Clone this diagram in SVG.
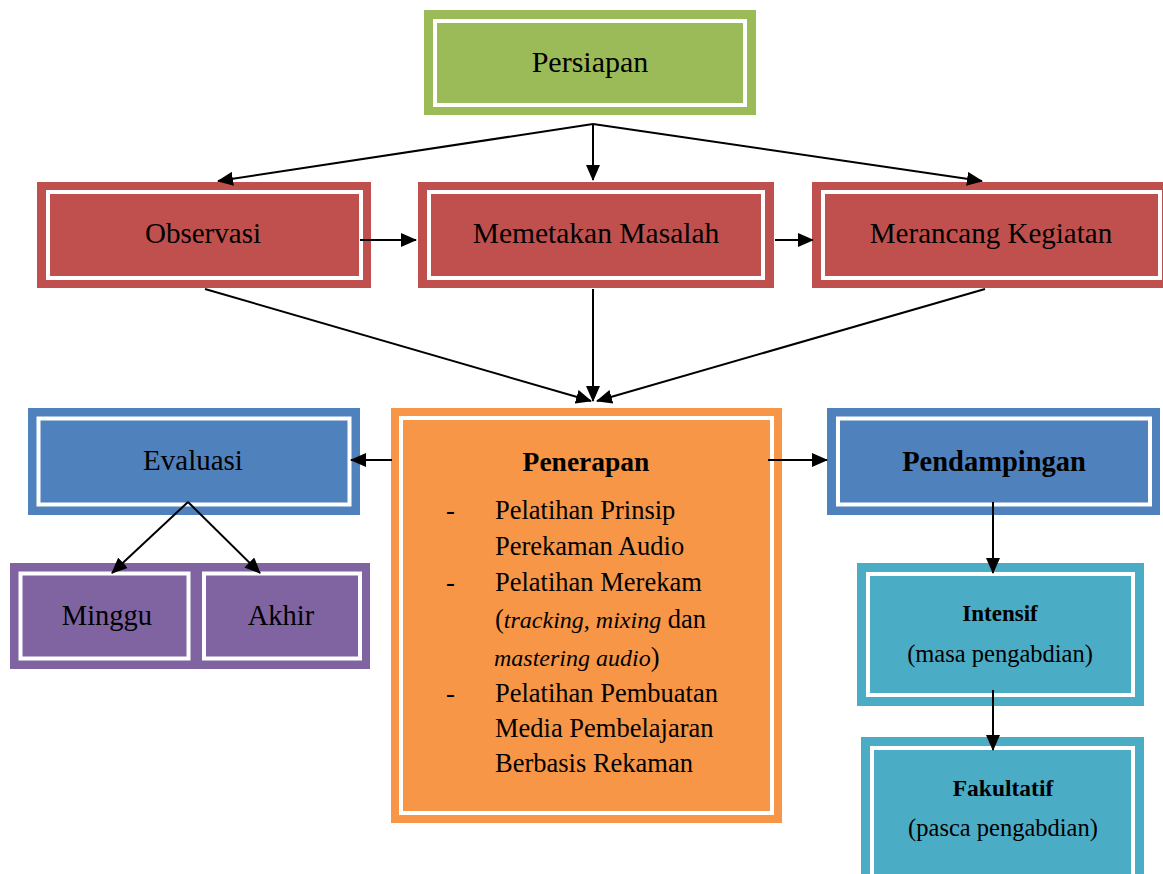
<svg xmlns="http://www.w3.org/2000/svg" width="1163" height="874" viewBox="0 0 1163 874">
<style>
.t{font-family:"Liberation Serif","Times New Roman",serif;fill:#000;text-anchor:middle}
.b{font-weight:bold}
.l{text-anchor:start}
.in{fill:none;stroke:#fff;stroke-width:4}
.c{stroke:#000;stroke-width:2;fill:none}
</style>
<defs>
<marker id="ah" markerUnits="userSpaceOnUse" markerWidth="16" markerHeight="14" refX="15" refY="7" orient="auto">
<path d="M0,0 L16,7 L0,14 Z" fill="#000"/>
</marker>
</defs>
<rect width="1163" height="874" fill="#fff"/>

<g id="persiapan">
<rect x="424" y="10" width="332" height="105" fill="#9BBB59"/>
<rect class="in" x="435" y="21" width="310" height="84"/>
<text class="t" x="590" y="72" font-size="30">Persiapan</text>
</g>

<g id="observasi">
<rect x="37" y="182" width="334" height="106" fill="#C0504D"/>
<rect class="in" x="48" y="192" width="313" height="86"/>
<text class="t" x="203" y="243" font-size="29">Observasi</text>
</g>

<g id="memetakan">
<rect x="418" y="182" width="356" height="106" fill="#C0504D"/>
<rect class="in" x="429" y="192" width="334" height="86"/>
<text class="t" x="596" y="243" font-size="29.5">Memetakan Masalah</text>
</g>

<g id="merancang">
<rect x="812" y="182" width="354" height="106" fill="#C0504D"/>
<rect class="in" x="823" y="192" width="337" height="86"/>
<text class="t" x="991" y="243" font-size="29">Merancang Kegiatan</text>
</g>

<g id="evaluasi">
<rect x="28" y="408" width="332" height="107" fill="#4F81BD"/>
<rect class="in" x="38.5" y="418.5" width="311" height="86"/>
<text class="t" x="193" y="470" font-size="29">Evaluasi</text>
</g>

<g id="minggu">
<rect x="10" y="563" width="188" height="106" fill="#8064A2"/>
<rect class="in" x="20.5" y="573.5" width="168" height="85"/>
<text class="t" x="107" y="625" font-size="28.5">Minggu</text>
</g>

<g id="akhir">
<rect x="194" y="563" width="176" height="106" fill="#8064A2"/>
<rect class="in" x="204" y="573.5" width="156" height="85"/>
<text class="t" x="281" y="625" font-size="28.5">Akhir</text>
</g>

<g id="penerapan">
<rect x="391" y="408" width="391" height="415" fill="#F79646"/>
<rect class="in" x="401" y="418" width="371" height="395"/>
<text class="t b" x="586" y="471" font-size="27.5">Penerapan</text>
<g class="t l" font-size="26.5">
<text x="446" y="519">-</text>
<text x="495" y="519">Pelatihan Prinsip</text>
<text x="495" y="555">Perekaman Audio</text>
<text x="446" y="591">-</text>
<text x="495" y="591">Pelatihan Merekam</text>
<text x="495" y="628">(<tspan font-style="italic" font-size="24">tracking, mixing</tspan> dan</text>
<text x="494" y="666"><tspan font-style="italic" font-size="24">mastering audio</tspan>)</text>
<text x="446" y="702">-</text>
<text x="495" y="702">Pelatihan Pembuatan</text>
<text x="495" y="737">Media Pembelajaran</text>
<text x="495" y="772">Berbasis Rekaman</text>
</g>
</g>

<g id="pendampingan">
<rect x="827" y="408" width="333" height="107" fill="#4F81BD"/>
<rect class="in" x="838" y="418.5" width="312" height="86"/>
<text class="t b" x="994" y="471" font-size="28.5">Pendampingan</text>
</g>

<g id="intensif">
<rect x="857" y="563" width="287" height="143" fill="#4BACC6"/>
<rect class="in" x="868" y="574" width="265" height="121"/>
<text class="t b" x="1000" y="621" font-size="23">Intensif</text>
<text class="t" x="1000" y="662" font-size="24.5">(masa pengabdian)</text>
</g>

<g id="fakultatif">
<rect x="861" y="737" width="283" height="145" fill="#4BACC6"/>
<rect class="in" x="872" y="748" width="261" height="140"/>
<text class="t b" x="1003" y="796" font-size="23.5">Fakultatif</text>
<text class="t" x="1003" y="836" font-size="24.5">(pasca pengabdian)</text>
</g>

<g id="connectors">
<line class="c" x1="593" y1="124" x2="218" y2="181" marker-end="url(#ah)"/>
<line class="c" x1="593" y1="124" x2="593" y2="180" marker-end="url(#ah)"/>
<line class="c" x1="593" y1="124" x2="982" y2="181" marker-end="url(#ah)"/>
<line class="c" x1="360" y1="240" x2="416" y2="240" marker-end="url(#ah)"/>
<line class="c" x1="775" y1="240" x2="813" y2="240" marker-end="url(#ah)"/>
<line class="c" x1="205" y1="289" x2="591" y2="401" marker-end="url(#ah)"/>
<line class="c" x1="593" y1="289" x2="593" y2="401" marker-end="url(#ah)"/>
<line class="c" x1="985" y1="289" x2="597" y2="401" marker-end="url(#ah)"/>
<line class="c" x1="392" y1="460" x2="351" y2="460" marker-end="url(#ah)"/>
<line class="c" x1="768" y1="460" x2="827" y2="460" marker-end="url(#ah)"/>
<line class="c" x1="188" y1="502" x2="112" y2="573" marker-end="url(#ah)"/>
<line class="c" x1="188" y1="502" x2="260" y2="573" marker-end="url(#ah)"/>
<line class="c" x1="993" y1="502" x2="993" y2="573" marker-end="url(#ah)"/>
<line class="c" x1="993" y1="690" x2="993" y2="750" marker-end="url(#ah)"/>
</g>
</svg>
